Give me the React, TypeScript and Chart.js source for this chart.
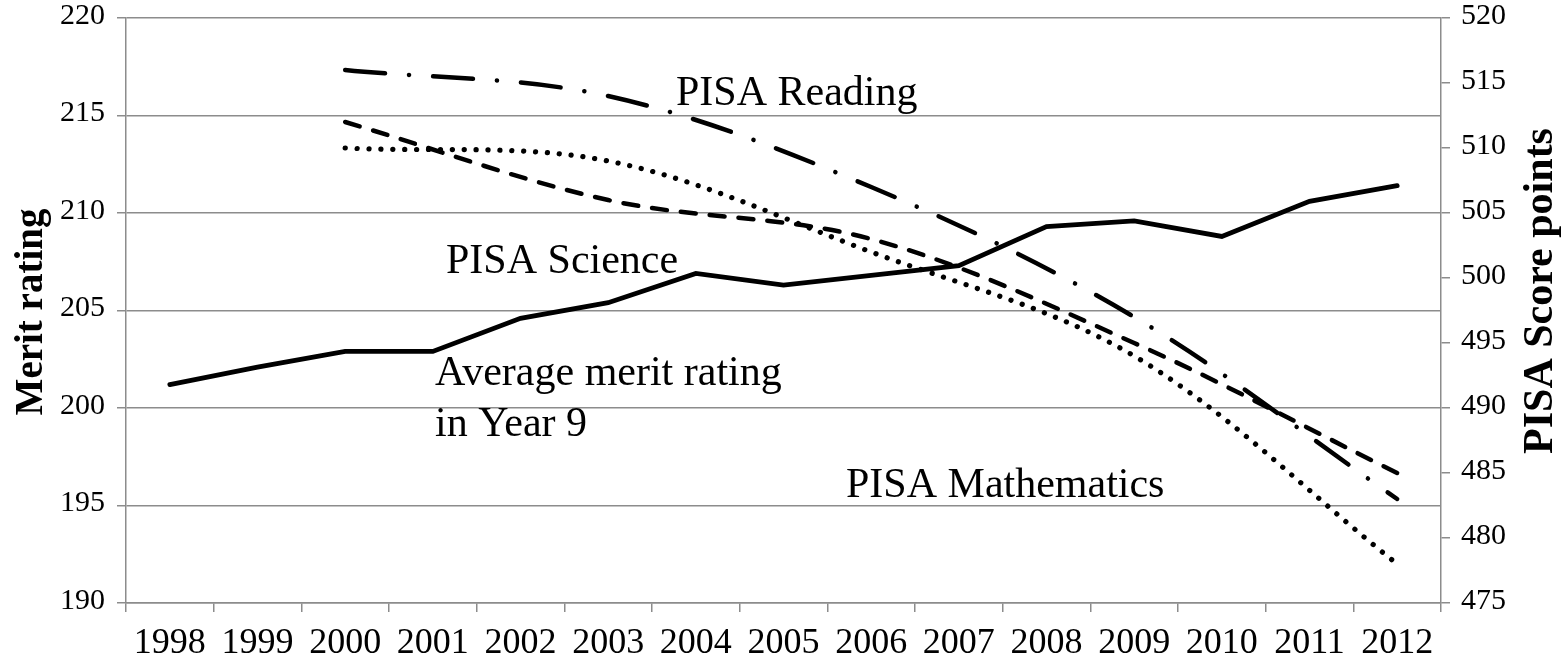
import React, { useEffect, useRef, useState } from 'react';
import { Chart, registerables } from 'chart.js';

Chart.register(...registerables);

// ---- data ----
const years = ['1998', '1999', '2000', '2001', '2002', '2003', '2004', '2005', '2006', '2007', '2008', '2009', '2010', '2011', '2012'];
const meritRating = [201.2, 202.1, 202.9, 202.9, 204.6, 205.4, 206.9, 206.3, 206.8, 207.3, 209.3, 209.6, 208.8, 210.6, 211.4];
const pisaReading = [null, null, 516, null, null, 514, null, null, 507, null, null, 497, null, null, 483];
const pisaScience = [null, null, 512, null, null, 506, null, null, 503, null, null, 495, null, null, 485];
const pisaMathematics = [null, null, 510, null, null, 509, null, null, 502, null, null, 494, null, null, 478];

const leftAxisTitle = 'Merit rating';
const rightAxisTitle = 'PISA Score points';

const SERIF = '"Liberation Serif", "Times New Roman", Times, serif';
const GRID = '#8c8c8c';

type Note = { lines: string[]; x: number; y: number };
const notes: Note[] = [
  { lines: ['PISA Reading'], x: 676, y: 105 },
  { lines: ['PISA Science'], x: 446, y: 273 },
  { lines: ['Average merit rating', 'in Year 9'], x: 435, y: 385 },
  { lines: ['PISA Mathematics'], x: 846, y: 497 },
];

function drawText(
  ctx: CanvasRenderingContext2D,
  text: string,
  x: number,
  y: number,
  size: number,
  bold: boolean,
  rotate: number,
  align: CanvasTextAlign,
  baseline: CanvasTextBaseline
) {
  ctx.save();
  ctx.translate(x, y);
  if (rotate) ctx.rotate(rotate);
  ctx.font = `${bold ? 'bold ' : ''}${size}px ${SERIF}`;
  ctx.fillStyle = '#000';
  ctx.textAlign = align;
  ctx.textBaseline = baseline;
  ctx.fillText(text, 0, 0);
  ctx.restore();
}

const textPlugin = {
  id: 'textPlugin',
  afterDraw(chart: any) {
    const ctx = chart.ctx as CanvasRenderingContext2D;
    notes.forEach((n) => {
      n.lines.forEach((line, i) => {
        drawText(ctx, line, n.x, n.y + i * 51, 42, false, 0, 'left', 'alphabetic');
      });
    });
    drawText(ctx, leftAxisTitle, 32, 312, 39, true, -Math.PI / 2, 'center', 'middle');
    drawText(ctx, rightAxisTitle, 1541, 291, 42, true, -Math.PI / 2, 'center', 'middle');
  },
};

export default function App() {
  const ref = useRef<HTMLCanvasElement | null>(null);
  const [ready, setReady] = useState(false);

  useEffect(() => {
    let alive = true;
    const fonts: any = (document as any).fonts;
    const loads = fonts
      ? Promise.all([
          fonts.load(`36px "Liberation Serif"`),
          fonts.load(`bold 30px "Liberation Serif"`),
        ]).catch(() => null)
      : Promise.resolve(null);
    loads.then(() => {
      if (alive) setReady(true);
    });
    return () => {
      alive = false;
    };
  }, []);

  useEffect(() => {
    if (!ready || !ref.current) return;
    const pisaStyle = {
      borderColor: '#000',
      backgroundColor: '#000',
      borderWidth: 4.5,
      pointRadius: 0,
      pointHoverRadius: 0,
      tension: 0.34,
      spanGaps: true,
      borderCapStyle: 'round' as CanvasLineCap,
      borderJoinStyle: 'round' as CanvasLineJoin,
      fill: false,
      yAxisID: 'y1',
    };
    const chart = new Chart(ref.current, {
      type: 'line',
      data: {
        labels: years,
        datasets: [
          { label: 'PISA Reading', data: pisaReading, ...pisaStyle, borderDash: [40, 24, 0.1, 24] },
          { label: 'PISA Science', data: pisaScience, ...pisaStyle, borderDash: [15, 14] },
          { label: 'PISA Mathematics', data: pisaMathematics, ...pisaStyle, borderWidth: 5.2, borderDash: [0.1, 11.8] },
          {
            label: 'Average merit rating in Year 9',
            data: meritRating,
            borderColor: '#000',
            backgroundColor: '#000',
            borderWidth: 4.8,
            pointRadius: 0,
            pointHoverRadius: 0,
            tension: 0,
            borderJoinStyle: 'miter',
            borderCapStyle: 'round',
            fill: false,
            yAxisID: 'y',
          },
        ],
      },
      options: {
        animation: false,
        responsive: false,
        devicePixelRatio: 1,
        layout: { padding: { top: 18, left: 0, right: 0, bottom: 0 } },
        plugins: {
          legend: { display: false },
          tooltip: { enabled: false },
          title: { display: false },
        },
        scales: {
          x: {
            type: 'category',
            offset: true,
            grid: {
              offset: true,
              drawOnChartArea: false,
              drawTicks: true,
              tickLength: 9,
              color: GRID,
              lineWidth: 1.5,
            },
            border: { display: true, color: GRID, width: 1.5 },
            ticks: {
              autoSkip: false,
              maxRotation: 0,
              minRotation: 0,
              color: '#000',
              padding: 10,
              font: { family: SERIF, size: 36 },
            },
            afterFit(scale: any) {
              scale.height = 61;
              scale.paddingLeft = 0;
              scale.paddingRight = 0;
            },
          },
          y: {
            type: 'linear',
            position: 'left',
            min: 190,
            max: 220,
            ticks: {
              stepSize: 5,
              color: '#000',
              padding: 12,
              labelOffset: -2,
              font: { family: SERIF, size: 30 },
            },
            grid: { color: GRID, lineWidth: 1.5, tickLength: 9, drawTicks: true },
            border: { display: true, color: GRID, width: 1.5 },
            afterFit(scale: any) {
              scale.width = 126;
              scale.paddingTop = 0;
              scale.paddingBottom = 0;
            },
          },
          y1: {
            type: 'linear',
            position: 'right',
            min: 475,
            max: 520,
            ticks: {
              stepSize: 5,
              color: '#000',
              padding: 11,
              labelOffset: -2,
              font: { family: SERIF, size: 30 },
            },
            grid: { drawOnChartArea: false, color: GRID, lineWidth: 1.5, tickLength: 9, drawTicks: true },
            border: { display: true, color: GRID, width: 1.5 },
            afterFit(scale: any) {
              scale.width = 127;
              scale.paddingTop = 0;
              scale.paddingBottom = 0;
            },
          },
        },
      },
      plugins: [textPlugin],
    });
    return () => chart.destroy();
  }, [ready]);

  return (
    <div style={{ position: 'fixed', left: 0, top: 0, width: 1568, height: 664, background: '#fff' }}>
      <span style={{ position: 'absolute', left: -9999, top: 0, fontFamily: SERIF }}>
        1998 <b>Merit rating</b>
      </span>
      <canvas ref={ref} width={1568} height={664} style={{ width: 1568, height: 664, display: 'block' }} />
    </div>
  );
}
